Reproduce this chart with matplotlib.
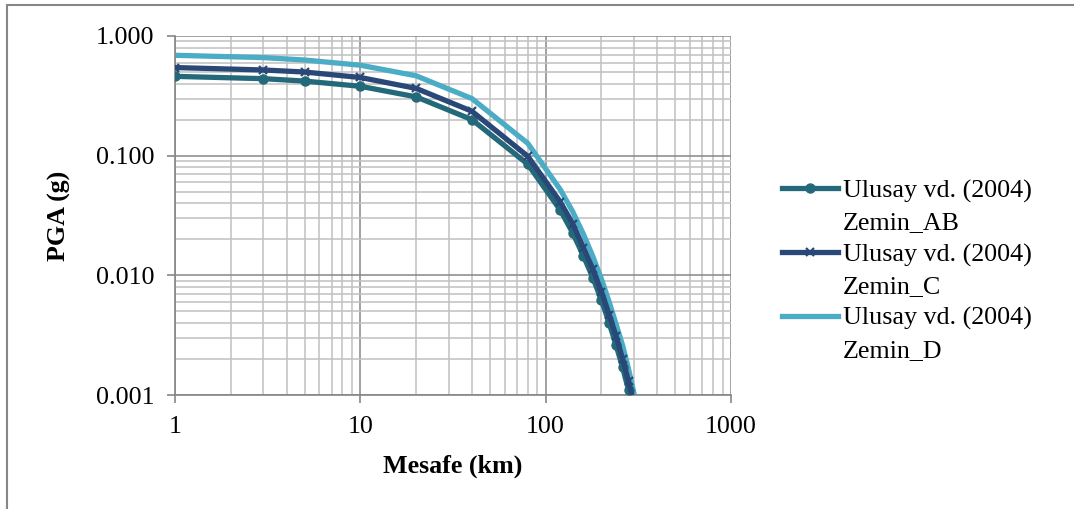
import numpy as np
import matplotlib
matplotlib.use("Agg")
import matplotlib.pyplot as plt
from matplotlib.patches import Rectangle
from matplotlib.lines import Line2D
from matplotlib.ticker import FixedLocator, NullFormatter, FixedFormatter

# Mesafe (km)
mesafe = [1, 3, 5, 10, 20, 40, 80, 120, 140, 160, 180, 200, 220, 240, 260, 280, 300]

# PGA (g) okunan degerler
pga_ab = [0.46, 0.44, 0.42, 0.38, 0.31, 0.20, 0.085, 0.035, 0.0226, 0.0145, 0.0095,
          0.0062, 0.0040, 0.0026, 0.0017, 0.0011, 0.0007]
pga_c = [0.545, 0.52, 0.50, 0.45, 0.365, 0.235, 0.099, 0.041, 0.027, 0.017, 0.0112,
         0.0073, 0.0047, 0.0031, 0.0020, 0.0013, 0.00083]
pga_d = [0.69, 0.66, 0.63, 0.57, 0.465, 0.30, 0.127, 0.052, 0.034, 0.022, 0.0143,
         0.0093, 0.0060, 0.0039, 0.0026, 0.00165, 0.00102]

model = "Ulusay vd. (2004)"
zeminler = ["Zemin_AB", "Zemin_C", "Zemin_D"]

x_ticks = [1, 10, 100, 1000]
x_labels = ["1", "10", "100", "1000"]
y_ticks = [0.001, 0.01, 0.1, 1.0]
y_labels = ["0.001", "0.010", "0.100", "1.000"]

plt.rcParams['font.family'] = ['Liberation Serif', 'DejaVu Serif']
fs = 18.7

fig = plt.figure(figsize=(10.74, 5.09), dpi=100)
ax = fig.add_axes([175/1074, 1 - 395/509, (731 - 175)/1074, (395 - 36)/509])

l_ab, = ax.plot(mesafe, pga_ab, color='#24697A', lw=3.8, marker='o', ms=6.5, zorder=3)
l_c, = ax.plot(mesafe, pga_c, color='#294877', lw=3.8, marker='x', ms=5.5, mew=1.6, zorder=4)
l_d, = ax.plot(mesafe, pga_d, color='#4BACC6', lw=3.8, zorder=2)

ax.set_xscale('log')
ax.set_yscale('log')
ax.set_xlim(1, 1000)
ax.set_ylim(0.001, 1.0)

ax.xaxis.set_major_locator(FixedLocator(x_ticks))
ax.xaxis.set_major_formatter(FixedFormatter(x_labels))
ax.yaxis.set_major_locator(FixedLocator(y_ticks))
ax.yaxis.set_major_formatter(FixedFormatter(y_labels))
ax.xaxis.set_minor_locator(FixedLocator([m * 10**k for k in range(3) for m in range(2, 10)]))
ax.yaxis.set_minor_locator(FixedLocator([m * 10.0**k for k in range(-3, 0) for m in range(2, 10)]))
ax.xaxis.set_minor_formatter(NullFormatter())
ax.yaxis.set_minor_formatter(NullFormatter())

ax.grid(True, which='major', color='#878787', lw=1.1, zorder=0)
ax.grid(True, which='minor', color='#c0c0c0', lw=1.1, zorder=0)
ax.set_axisbelow(True)

for s in ['top', 'right']:
    ax.spines[s].set_visible(False)
for s in ['left', 'bottom']:
    ax.spines[s].set_color('#868686')
    ax.spines[s].set_linewidth(1.2)

ax.tick_params(which='major', length=6, width=1.2, color='#868686', labelsize=fs, pad=9)
ax.tick_params(which='minor', length=0)

ax.set_xlabel('Mesafe (km)', fontsize=fs, fontweight='bold', labelpad=12)
ax.set_ylabel('PGA (g)', fontsize=fs, fontweight='bold')
ax.yaxis.set_label_coords(-0.187, 0.5)

# legend: handle on first line, soil class on second line
bos = Line2D([], [], linestyle='none')
handles = [l_ab, bos, l_c, bos, l_d, bos]
labels = [model, zeminler[0], model, zeminler[1], model, zeminler[2]]
leg = fig.legend(handles, labels, loc='upper left', bbox_to_anchor=(782/1074, 1 - 179/509),
                 frameon=False, fontsize=fs, handlelength=2.15, handletextpad=0.2,
                 labelspacing=0.33, borderpad=0, borderaxespad=0)

fig.patches.append(Rectangle((7/1074, -0.1), 1.2, 1 - 5/509 + 0.1, transform=fig.transFigure,
                             fill=False, edgecolor='#868686', lw=1.5))

fig.savefig('out.png', dpi=100)
